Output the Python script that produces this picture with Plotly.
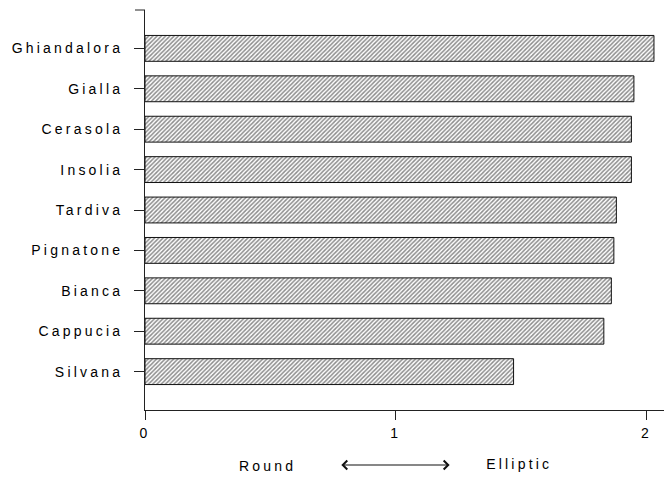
import plotly.graph_objects as go

# Cultivars listed bottom to top, with their mean shape index
cultivars = ["Silvana", "Cappucia", "Bianca", "Pignatone", "Tardiva",
             "Insolia", "Cerasola", "Gialla", "Ghiandalora"]
shape_index = [1.47, 1.83, 1.86, 1.87, 1.88, 1.94, 1.94, 1.95, 2.03]

x_ticks = [0, 1, 2]
x_tick_labels = ["0", "1", "2"]

axis_color = "#222222"
font_family = "Liberation Sans, Arial, sans-serif"
plot_width_px = 664 - 145

fig = go.Figure()
fig.add_trace(go.Bar(
    x=shape_index,
    y=cultivars,
    orientation="h",
    width=0.64,
    marker=dict(
        color="white",
        line=dict(color="#111111", width=1),
        pattern=dict(shape="/", size=3, solidity=0.5,
                     fgcolor="#1a1a1a", bgcolor="white"),
    ),
    showlegend=False,
    hoverinfo="x+y",
))

fig.update_layout(
    width=664, height=480,
    margin=dict(l=145, r=0, t=10, b=70),
    paper_bgcolor="white",
    plot_bgcolor="white",
    font=dict(family=font_family, size=14, color="#000000"),
    xaxis=dict(
        range=[0, 2.07],
        tickvals=x_ticks,
        ticktext=x_tick_labels,
        showgrid=False,
        zeroline=False,
        showline=True,
        linecolor=axis_color,
        linewidth=1,
        ticks="outside",
        ticklen=9,
        tickwidth=1,
        tickcolor=axis_color,
        ticklabelstandoff=1,
    ),
    yaxis=dict(
        type="category",
        categoryorder="array",
        categoryarray=cultivars,
        range=[-0.95, 8.95],
        showgrid=False,
        zeroline=False,
        showline=True,
        linecolor=axis_color,
        linewidth=1,
        ticks="outside",
        ticklen=10,
        tickwidth=1,
        tickcolor=axis_color,
        ticklabelstandoff=8,
    ),
)

# Short cap tick at the top end of the category axis
fig.add_shape(
    type="line", xref="paper", yref="paper",
    x0=-10 / plot_width_px, x1=0, y0=1, y1=1,
    line=dict(color=axis_color, width=1),
)

# Shape scale legend below the axis
fig.add_annotation(text="Round", x=0.49, y=-0.165, xref="x", yref="paper",
                   showarrow=False)
fig.add_annotation(text="Elliptic", x=1.49, y=-0.16, xref="x", yref="paper",
                   showarrow=False)
fig.add_annotation(
    x=1.215, y=-0.1375, ax=0.777, ay=0,
    xref="x", yref="paper", axref="x", ayref="pixel",
    text="", showarrow=True, arrowhead=4, startarrowhead=4,
    arrowside="end+start", arrowsize=1.6, startarrowsize=1.6,
    arrowwidth=1.1, arrowcolor="#111111",
)

# Widen the letter spacing of all labels
post_js = """
document.querySelectorAll('.main-svg text').forEach(function(t){
  t.style.letterSpacing = '3.2px';
});
"""

fig.write_html("out.html", post_script=post_js)
